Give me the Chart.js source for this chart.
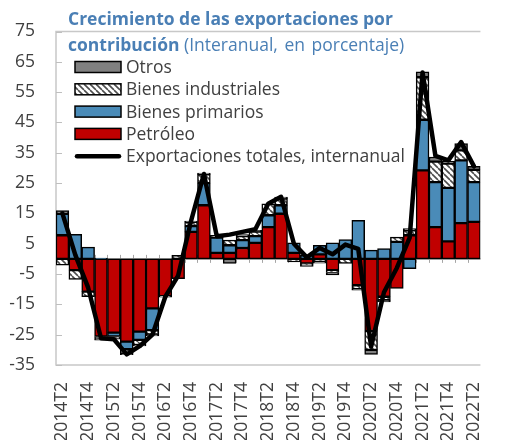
<!DOCTYPE html>
<html><head><meta charset="utf-8">
<script src="https://cdn.jsdelivr.net/npm/chart.js@4.4.0/dist/chart.umd.min.js"></script>
<style>
html,body{margin:0;padding:0;background:#fff;overflow:hidden;}
#wrap{position:relative;width:512px;height:440px;}
#title{position:absolute;left:68px;top:5px;font-family:'Open Sans',sans-serif;font-size:17.5px;line-height:26px;color:#4A7FB5;white-space:nowrap;z-index:2;}
#title b{font-weight:700;font-size:17.5px;}
#title span{word-spacing:2px;font-size:17.5px;}
</style></head><body>
<div id="wrap"><canvas id="c" width="512" height="440"></canvas>
<div id="title"><b>Crecimiento de las exportaciones por</b><br><b>contribución</b> <span>(Interanual, en porcentaje)</span></div></div>
<script>
const categories = ['2014T2','2014T3','2014T4','2015T1','2015T2','2015T3','2015T4','2016T1','2016T2','2016T3','2016T4',
  '2017T1','2017T2','2017T3','2017T4','2018T1','2018T2','2018T3','2018T4','2019T1','2019T2','2019T3','2019T4',
  '2020T1','2020T2','2020T3','2020T4','2021T1','2021T2','2021T3','2021T4','2022T1','2022T2'];
const petroleo = [7.8,-3.7,-10.8,-25.6,-24.3,-27.3,-24.0,-16.3,-12.3,-6.5,8.9,
  17.7,2.0,2.0,3.6,5.3,10.5,14.9,2.0,-1.5,1.5,-3.7,0,
  -8.7,-23.8,-12.5,-9.7,7.8,29.2,10.5,5.8,11.8,12.2];
const primarios = [7.1,8.1,3.9,0.3,-1.3,-2.5,-2.7,-7.2,0,0,1.9,
  7.3,5.0,2.5,2.6,2.2,3.9,2.8,3.3,1.2,3.0,5.3,6.4,
  12.7,2.9,3.4,5.6,-3.2,16.7,14.8,17.6,20.7,13.1];
const industriales = [-2.1,-3.1,-1.7,-0.9,-0.9,-1.5,-1.7,-1.4,-0.3,1.2,1.4,
  2.9,0.8,1.7,1.3,1.5,3.8,2.2,-1.0,-0.5,-0.9,-0.8,-1.5,
  -1.3,-6.2,-1.1,1.6,1.6,14.0,6.8,8.0,3.3,4.1];
const otros = [1.0,0,0,-0.3,0,-0.3,-0.3,-0.5,0,0,0.3,
  0.4,0,-1.5,0.5,0.4,0,0.5,0,-0.5,-0.5,-0.8,0,
  -0.3,-1.5,-0.6,0,0.6,1.8,1.5,0.8,2.2,1.1];
const totales = [15,1.3,-9.5,-26.2,-26.5,-31.5,-28.8,-25,-12.5,-5.5,12.5,
  28,7.5,8,8.9,9.8,18.2,20.5,5,0.5,3.6,1.5,4.7,
  3.3,-29,-11,-3,7,61.5,34,32.5,38.5,30.5];
const yTicks = {min:-35, max:75, step:10};

function hatch(){
  const c = document.createElement('canvas'); c.width = 6; c.height = 6;
  const g = c.getContext('2d');
  g.fillStyle = '#fff'; g.fillRect(0,0,6,6);
  g.strokeStyle = '#4d4d4d'; g.lineWidth = 1.6;
  for (const o of [-6,0,6]) { g.beginPath(); g.moveTo(o,0); g.lineTo(o+6,6); g.stroke(); }
  return g.createPattern(c,'repeat');
}
const FONT = 'Open Sans';
const FS = 17.5;
const TXT = '#404040';

const framePlugin = {
  id:'frame',
  beforeDatasetsDraw(chart){
    const {ctx, chartArea:a, scales:{x,y}} = chart;
    ctx.save();
    ctx.strokeStyle = '#C8C8C8'; ctx.lineWidth = 1.5;
    ctx.beginPath();
    ctx.moveTo(a.right, a.top); ctx.lineTo(a.left, a.top); ctx.lineTo(a.left, a.bottom); ctx.lineTo(a.right, a.bottom);
    ctx.stroke();
    ctx.strokeStyle = '#BFBFBF'; ctx.lineWidth = 1;
    y.ticks.forEach(t => { const py = Math.round(y.getPixelForValue(t.value))+0.5; ctx.beginPath(); ctx.moveTo(a.left, py); ctx.lineTo(a.left+6, py); ctx.stroke(); });
    const y0 = y.getPixelForValue(0);
    ctx.strokeStyle = '#A6A6A6'; ctx.lineWidth = 2;
    ctx.beginPath(); ctx.moveTo(a.left, y0); ctx.lineTo(a.right, y0); ctx.stroke();
    ctx.lineWidth = 1;
    for (let i = 0; i < categories.length - 1; i++) {
      const bx = Math.round((x.getPixelForValue(i) + x.getPixelForValue(i+1))/2)+0.5;
      ctx.beginPath(); ctx.moveTo(bx, y0-4); ctx.lineTo(bx, y0+4); ctx.stroke();
    }
    ctx.restore();
  }
};

const legendPlugin = {
  id:'customLegend',
  afterDatasetsDraw(chart){
    const {ctx, chartArea:a} = chart;
    const ds = chart.data.datasets;
    const order = ['Otros','Bienes industriales','Bienes primarios','Petróleo','Exportaciones totales, internanual'];
    const x0 = a.left + 19, w = 46, h = 11;
    let yc = 67;
    ctx.save();
    ctx.font = FS + 'px "' + FONT + '"';
    ctx.textBaseline = 'middle';
    ctx.fillStyle = TXT;
    order.forEach(lbl => {
      const d = ds.find(e => e.label === lbl);
      if (d.type === 'line') {
        ctx.strokeStyle = '#000'; ctx.lineWidth = 4.5; ctx.lineCap = 'round';
        ctx.beginPath(); ctx.moveTo(x0+2, yc); ctx.lineTo(x0+w-2, yc); ctx.stroke();
      } else {
        ctx.fillStyle = d.backgroundColor;
        ctx.fillRect(x0, yc-h/2, w, h);
        ctx.strokeStyle = '#000'; ctx.lineWidth = 1.5;
        ctx.strokeRect(x0, yc-h/2, w, h);
      }
      ctx.fillStyle = TXT;
      ctx.fillText(lbl, x0 + w + 5, yc + 1);
      yc += 22.3;
    });
    ctx.restore();
  }
};

const barCommon = {borderColor:'#000', borderWidth:1.5, borderSkipped:false, stack:'bars', order:1,
  categoryPercentage:1.0, barPercentage:1.0};

new Chart(document.getElementById('c'), {
  type:'bar',
  data:{
    labels: categories,
    datasets:[
      {type:'line', label:'Exportaciones totales, internanual', data: totales, borderColor:'#000', backgroundColor:'#000',
        borderWidth:4.5, pointRadius:0, tension:0, borderJoinStyle:'round', borderCapStyle:'round', order:0, stack:'tot'},
      Object.assign({label:'Petróleo', data: petroleo, backgroundColor:'#C00000'}, barCommon),
      Object.assign({label:'Bienes primarios', data: primarios, backgroundColor:'#4A8BB8'}, barCommon),
      Object.assign({label:'Bienes industriales', data: industriales, backgroundColor: hatch()}, barCommon),
      Object.assign({label:'Otros', data: otros, backgroundColor:'#808080'}, barCommon)
    ]
  },
  options:{
    responsive:false, animation:false, devicePixelRatio:1,
    layout:{padding:{top:31, left:0, right:0, bottom:0}},
    plugins:{legend:{display:false}, title:{display:false}, tooltip:{enabled:false}},
    scales:{
      x:{stacked:true, offset:true, grid:{display:false, drawTicks:false}, border:{display:false},
        ticks:{autoSkip:false, maxRotation:90, minRotation:90, padding:17, color:TXT, font:{family:FONT, size:FS},
          callback:(v,i)=> i%2===0 ? categories[i] : ''},
        afterFit:s=>{ s.height = 75; }},
      y:{stacked:true, min:yTicks.min, max:yTicks.max, grid:{display:false, drawTicks:false}, border:{display:false},
        ticks:{stepSize:yTicks.step, padding:21, color:TXT, font:{family:FONT, size:FS}},
        afterFit:s=>{ s.width = 56; }}
    }
  },
  plugins:[framePlugin, legendPlugin]
});
</script>
</body></html>
